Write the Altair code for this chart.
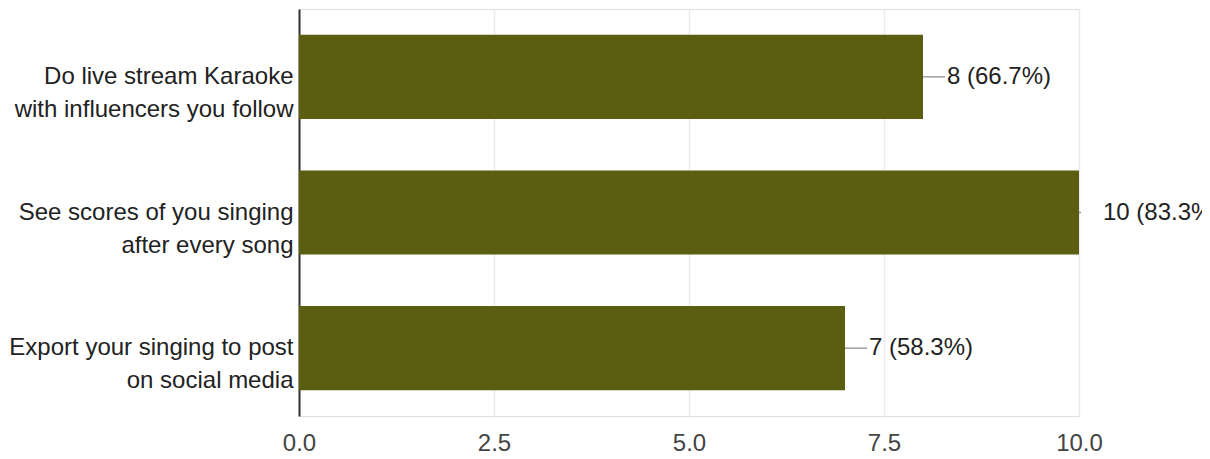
import altair as alt
import pandas as pd

categories = [
    "Do live stream Karaoke\nwith influencers you follow",
    "See scores of you singing\nafter every song",
    "Export your singing to post\non social media",
]
counts = [8, 10, 7]
percents = ["66.7%", "83.3%", "58.3%"]
x_ticks = [0, 2.5, 5, 7.5, 10]

df = pd.DataFrame({
    "category": categories,
    "count": counts,
    "pct": percents,
})
df["label"] = [f"{c} ({p})" for c, p in zip(counts, percents)]

FONT = "Liberation Sans"
BAR = "#5b5d11"

y_enc = alt.Y(
    "category:N",
    sort=categories,
    scale=alt.Scale(paddingInner=0.38, paddingOuter=0.19),
    axis=alt.Axis(
        title=None,
        labelExpr="split(datum.label, '\\n')",
        labelFontSize=24,
        labelFont=FONT,
        labelColor="#222222",
        labelLineHeight=33,
        labelPadding=6,
        labelLimit=600,
        ticks=False,
        grid=False,
        domainColor="#333333",
        domainWidth=2,
        minExtent=291,
        maxExtent=291,
    ),
)

x_enc = alt.X(
    "count:Q",
    scale=alt.Scale(domain=[0, 10], nice=False),
    axis=alt.Axis(
        title=None,
        values=x_ticks,
        format=".1f",
        labelFontSize=24,
        labelFont=FONT,
        labelColor="#444444",
        labelPadding=15,
        labelFlush=False,
        ticks=False,
        domain=False,
        grid=True,
        gridColor="#ebebeb",
        gridWidth=1.5,
    ),
)

base = alt.Chart(df)

bars = base.mark_bar(color=BAR).encode(x=x_enc, y=y_enc)

leaders_long = base.transform_filter("datum.count < 10").mark_rule(
    color="#9e9e9e", strokeWidth=1.5, x2Offset=22
).encode(x="count:Q", x2="count:Q", y=alt.Y("category:N", sort=categories, bandPosition=0.5))

leaders_short = base.transform_filter("datum.count >= 10").mark_rule(
    color="#9e9e9e", strokeWidth=1.5, x2Offset=2
).encode(x="count:Q", x2="count:Q", y=alt.Y("category:N", sort=categories, bandPosition=0.5))

texts = base.mark_text(
    align="left", baseline="middle", dx=24, fontSize=24, font=FONT, color="#222222"
).encode(x="count:Q", y=alt.Y("category:N", sort=categories), text="label:N")

chart = alt.layer(bars, leaders_long, leaders_short, texts).properties(
    width=780,
    height=407,
    autosize=alt.AutoSizeParams(type="none"),
    padding={"left": 291, "top": 1, "right": 123, "bottom": 39},
).configure_view(
    stroke="#ebebeb", strokeWidth=1.5
).configure(background="white")

chart.save("out.html", embed_options={"renderer": "svg", "actions": False})
